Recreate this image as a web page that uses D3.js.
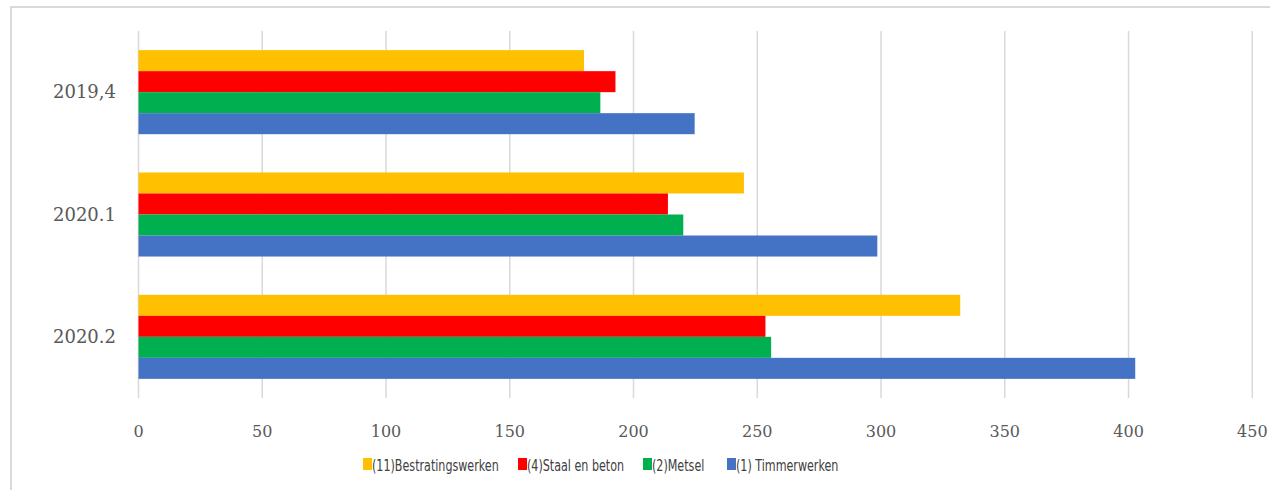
<!DOCTYPE html>
<html>
<head>
<meta charset="utf-8">
<script src="https://cdn.jsdelivr.net/npm/d3@7"></script>
<style>
  body { margin: 0; background: #fff; }
</style>
</head>
<body>
<div id="chart"></div>
<script>
// categories top to bottom
const categories = ["2019,4", "2020.1", "2020.2"];
const seriesNames = ["(11)Bestratingswerken", "(4)Staal en beton", "(2)Metsel", "(1) Timmerwerken"];
const seriesColors = ["#ffc000", "#ff0000", "#00b050", "#4472c4"];
// values per series, in the order of categories
const bestrating = [180, 244.6, 332];
const staal = [192.7, 213.9, 253.3];
const metsel = [186.6, 220.1, 255.6];
const timmer = [224.7, 298.5, 402.7];
const xTicks = [0, 50, 100, 150, 200, 250, 300, 350, 400, 450];

const values = [bestrating, staal, metsel, timmer];

var width = 1270
var height = 490

var svg = d3.select("#chart")
  .append("svg")
    .attr("width", width)
    .attr("height", height)

// outer frame
svg.append("rect")
  .attr("x", 11).attr("y", 7)
  .attr("width", 1300).attr("height", 600)
  .attr("fill", "none")
  .attr("stroke", "#d9d9d9")
  .attr("stroke-width", 2)

var x = d3.scaleLinear()
  .domain([0, 450])
  .range([138.5, 1252.3])

var y = d3.scaleBand()
  .domain(categories)
  .range([31, 398])
  .paddingInner(0.313)
  .paddingOuter(0.1565)

var yInner = d3.scaleBand()
  .domain(d3.range(seriesNames.length))
  .range([0, y.bandwidth()])

// gridlines
svg.append("g")
  .selectAll("line")
  .data(xTicks)
  .enter()
  .append("line")
  .attr("x1", d => x(d)).attr("x2", d => x(d))
  .attr("y1", 31).attr("y2", 398)
  .attr("stroke", "#d9d9d9")
  .attr("stroke-width", 1.5)

// bars
var groups = svg.selectAll("g.cat")
  .data(categories)
  .enter()
  .append("g")
  .attr("class", "cat")
  .attr("transform", d => "translate(0," + y(d) + ")")

groups.selectAll("rect")
  .data((c, ci) => values.map((s, si) => ({ si: si, v: s[ci] })))
  .enter()
  .append("rect")
  .attr("x", x(0))
  .attr("y", d => yInner(d.si))
  .attr("width", d => x(d.v) - x(0))
  .attr("height", yInner.bandwidth())
  .attr("fill", d => seriesColors[d.si])

// x tick labels
svg.append("g")
  .selectAll("text")
  .data(xTicks)
  .enter()
  .append("text")
  .attr("x", d => x(d))
  .attr("y", 437)
  .attr("text-anchor", "middle")
  .attr("font-family", "DejaVu Serif")
  .attr("font-size", 16)
  .attr("fill", "#595959")
  .text(d => d)

// category labels
svg.append("g")
  .selectAll("text")
  .data(categories)
  .enter()
  .append("text")
  .attr("x", 116)
  .attr("y", d => y(d) + y.bandwidth() / 2 + 6)
  .attr("text-anchor", "end")
  .attr("font-family", "DejaVu Serif")
  .attr("font-size", 18)
  .attr("fill", "#595959")
  .text(d => d)

// legend
var legendX = [363, 518, 643, 727];
var legend = svg.append("g")
  .selectAll("g")
  .data(seriesNames)
  .enter()
  .append("g")
  .attr("transform", (d, i) => "translate(" + legendX[i] + ",458)")

legend.append("rect")
  .attr("width", 9).attr("height", 12)
  .attr("fill", (d, i) => seriesColors[i])

legend.append("text")
  .attr("transform", "translate(9,13) scale(0.75,1)")
  .attr("font-family", "DejaVu Sans Condensed")
  .attr("font-size", 16.5)
  .attr("fill", "#404040")
  .text(d => d)
</script>
</body>
</html>
